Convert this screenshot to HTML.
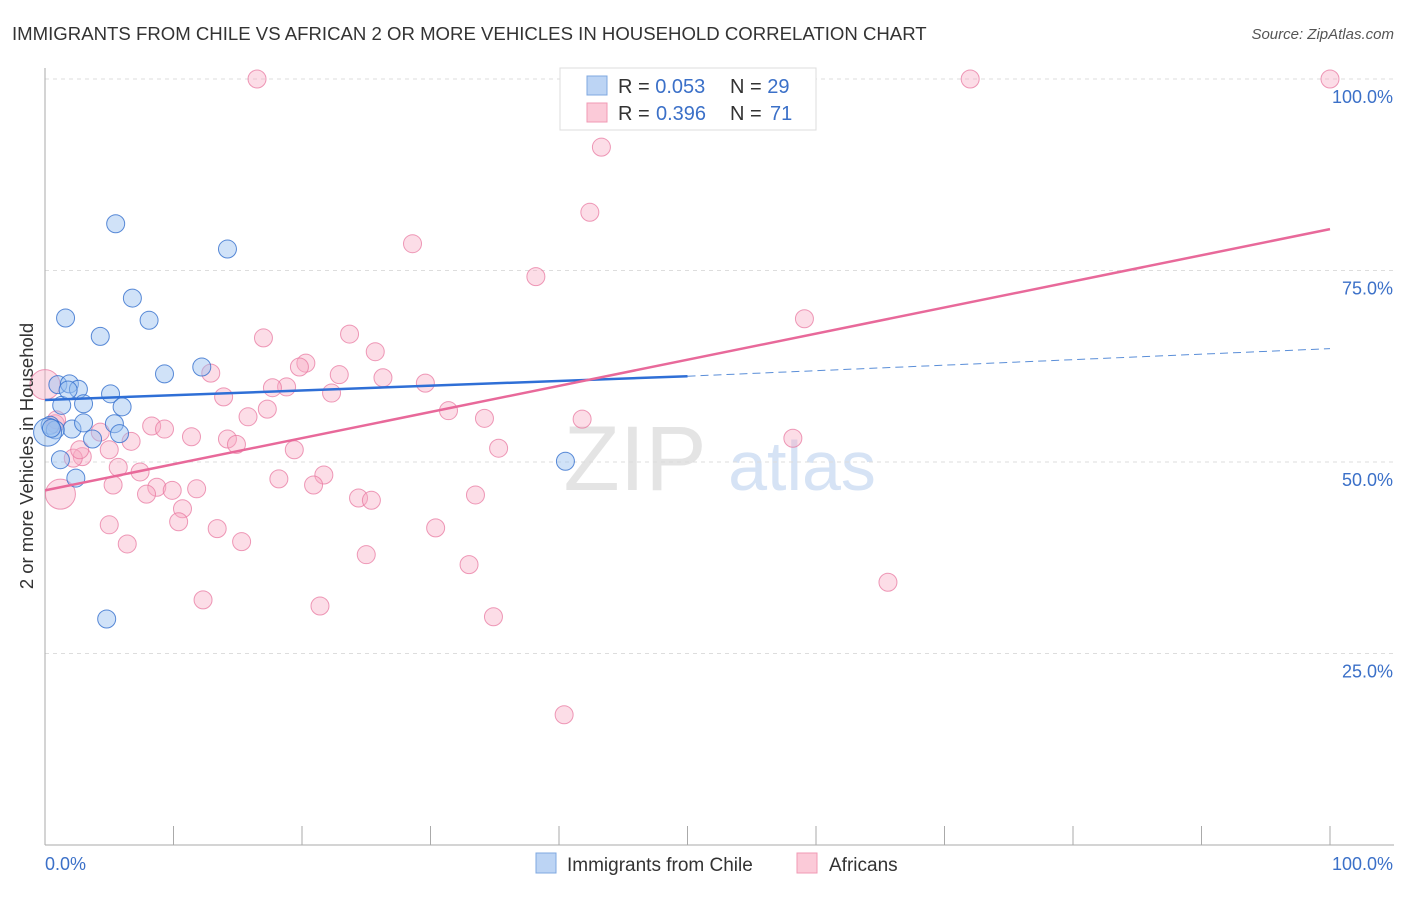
<!DOCTYPE html>
<html><head><meta charset="utf-8"><style>
body{margin:0;background:#fff;font-family:"Liberation Sans",sans-serif}
svg text{font-family:"Liberation Sans",sans-serif}
</style></head><body>
<svg width="1406" height="892" xmlns="http://www.w3.org/2000/svg">
<text x="12" y="40" font-size="18.6" fill="#333">IMMIGRANTS FROM CHILE VS AFRICAN 2 OR MORE VEHICLES IN HOUSEHOLD CORRELATION CHART</text>
<text x="1394" y="39" font-size="15" fill="#555" font-style="italic" text-anchor="end">Source: ZipAtlas.com</text>
<g><text x="635" y="490" font-size="92" fill="#e4e4e4" font-family="Liberation Serif" text-anchor="middle">ZIP</text><text x="802" y="490" font-size="70" fill="#d6e3f5" text-anchor="middle">atlas</text></g>
<g id="grid"></g>
<g id="axes"></g>
<g id="marks"></g>
<text transform="translate(33,456) rotate(-90)" font-size="18.5" fill="#333" text-anchor="middle">2 or more Vehicles in Household</text>
<g>
<rect x="560" y="68" width="256" height="62" fill="#fff" stroke="#ddd"/>
<rect x="587" y="76" width="20" height="19" fill="#bcd4f4" stroke="#7fa8e0"/>
<rect x="587" y="103" width="20" height="19" fill="#fbcad8" stroke="#f09ab4"/>
<text x="618" y="93" font-size="20" fill="#333">R = <tspan fill="#3b70c8">0.053</tspan><tspan x="730">N = </tspan><tspan fill="#3b70c8">29</tspan></text>
<text x="618" y="120" font-size="20" fill="#333">R = <tspan x="656" fill="#3b70c8">0.396</tspan><tspan x="730">N = </tspan><tspan x="770" fill="#3b70c8">71</tspan></text>
</g>
<g>
<rect x="536" y="853" width="20" height="20" fill="#bcd4f4" stroke="#7fa8e0"/>
<text x="567" y="871" font-size="19" fill="#333">Immigrants from Chile</text>
<rect x="797" y="853" width="20" height="20" fill="#fbcad8" stroke="#f09ab4"/>
<text x="829" y="871" font-size="19" fill="#333">Africans</text>
</g>
</svg>
<script>
const blueX=[5.5,14.2,6.8,1.6,8.1,4.3,12.2,9.3,1.0,1.9,2.6,5.1,1.3,3.0,6.0,5.4,2.1,0.4,0.8,5.8,3.7,1.2,2.4,4.8,40.5,0.2,0.5,1.8,3.0];
const blueY=[81.1,77.8,71.4,68.8,68.5,66.4,62.4,61.5,60.1,60.2,59.5,58.9,57.4,57.6,57.2,55.0,54.3,54.8,54.2,53.7,53.0,50.3,47.9,29.5,50.1,53.9,54.4,59.4,55.1];
const pinkX=[16.5,72.0,100,43.3,42.4,28.6,38.2,59.1,17.0,23.7,12.9,25.7,20.3,19.8,22.9,26.3,18.8,17.7,29.6,13.9,22.3,17.3,15.8,31.4,34.2,41.8,8.3,9.3,4.3,6.7,11.4,14.2,14.9,19.4,58.2,35.3,5.0,2.9,2.2,5.7,7.4,21.7,18.2,5.3,8.7,11.8,9.9,7.9,20.9,24.4,25.4,33.5,10.7,10.4,5.0,13.4,30.4,15.3,6.4,25.0,33.0,65.6,12.3,21.4,34.9,40.4,1.2,0,0.8,2.7,0.9];
const pinkY=[100,100,100,91.1,82.6,78.5,74.2,68.7,66.2,66.7,61.6,64.4,62.9,62.4,61.4,61.0,59.8,59.7,60.3,58.5,59.0,56.9,55.9,56.7,55.7,55.6,54.7,54.3,53.9,52.7,53.3,53.0,52.3,51.6,53.1,51.8,51.6,50.7,50.5,49.3,48.7,48.3,47.8,47.0,46.7,46.5,46.3,45.8,47.0,45.3,45.0,45.7,43.9,42.2,41.8,41.3,41.4,39.6,39.3,37.9,36.6,34.3,32.0,31.2,29.8,17.0,45.8,60.1,55.0,51.6,55.5];
const yTicks=[25,50,75,100];
const yTickLabels=["25.0%","50.0%","75.0%","100.0%"];
const xTicks=[0,10,20,30,40,50,60,70,80,90,100];
const blueTrend=[58.1,61.2,64.8];
const pinkTrend=[46.3,80.4];
const NS="http://www.w3.org/2000/svg";
const X=v=>45+v*12.85, Y=v=>845-v*7.66;
function mk(p,t,a){const e=document.createElementNS(NS,t);for(const k in a)e.setAttribute(k,a[k]);document.getElementById(p).appendChild(e);return e;}
yTicks.forEach((t,i)=>{
 const g=mk('grid','line',{x1:45,x2:1394,y1:Y(t),y2:Y(t),stroke:'#ddd','stroke-dasharray':'4 4'});
 
 
 const l=mk('axes','text',{x:1393,y:Y(t)+24,'font-size':18,fill:'#3b70c8','text-anchor':'end'});
 l.textContent=yTickLabels[i];
 
 
});
const ax=mk('axes','line',{x1:45,x2:45,y1:68,y2:845,stroke:'#aaa'});


const bx=mk('axes','line',{x1:45,x2:1394,y1:845,y2:845,stroke:'#aaa'});


xTicks.forEach(t=>{
 const k=mk('axes','line',{x1:X(t),x2:X(t),y1:826,y2:845,stroke:'#aaa'});
 
 
});
[[0,"0.0%",'start',45],[100,"100.0%",'end',1393]].forEach(([v,s,a,px])=>{
 const l=mk('axes','text',{x:px,y:870,'font-size':18,fill:'#3b70c8','text-anchor':a});
 l.textContent=s;
 
 
});
pinkX.forEach((x,i)=>{
 const big=(x<=1.2&&(pinkY[i]>59||pinkY[i]<46));
 const c=mk('marks','circle',{cx:X(x),cy:Y(pinkY[i]),r:big?15:9,fill:'rgba(248,170,195,0.4)',stroke:'rgba(232,120,160,0.75)','stroke-width':1});
 
 
});
blueX.forEach((x,i)=>{
 const c=mk('marks','circle',{cx:X(x),cy:Y(blueY[i]),r:(x<0.3)?14:9,fill:'rgba(150,190,240,0.45)',stroke:'rgba(50,110,205,0.8)','stroke-width':1});
 
 
});
const b1=mk('marks','line',{x1:X(0),y1:Y(blueTrend[0]),x2:X(50),y2:Y(blueTrend[1]),stroke:'#2f6fd6','stroke-width':2.5});


const b2=mk('marks','line',{x1:X(50),y1:Y(blueTrend[1]),x2:X(100),y2:Y(blueTrend[2]),stroke:'#5a8ed8','stroke-width':1,'stroke-dasharray':'8 5'});


const p1=mk('marks','line',{x1:X(0),y1:Y(pinkTrend[0]),x2:X(100),y2:Y(pinkTrend[1]),stroke:'#e8699a','stroke-width':2.5});


</script>
</body></html>
